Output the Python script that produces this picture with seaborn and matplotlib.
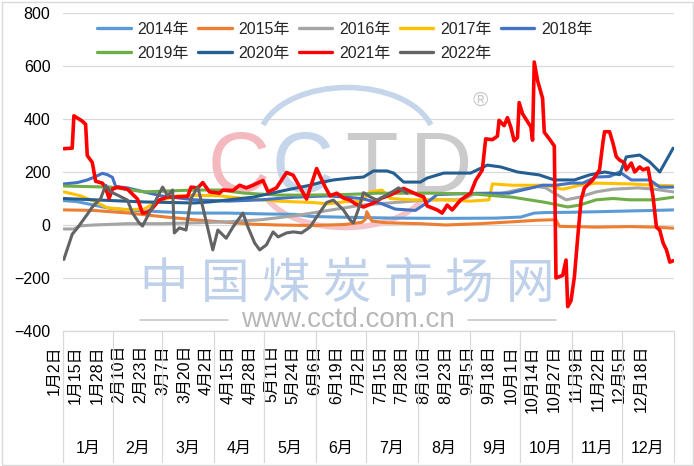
import pandas as pd
import matplotlib
matplotlib.use("Agg")
import matplotlib.pyplot as plt
import matplotlib.transforms as mtransforms
from matplotlib.lines import Line2D
from matplotlib.patches import Arc, Rectangle
import seaborn as sns

sns.set_theme(style="white")
plt.rcParams['font.family'] = ['Liberation Sans', 'Noto Sans CJK SC']

# day of year (2020 calendar, Jan 1 = 1) and value, one pair of lists per year
d2014 = [2, 10, 20, 30, 45, 60, 80, 100, 120, 140, 150, 165, 180, 200, 230, 260, 275, 283, 290, 305, 320, 340, 355, 366]
v2014 = [92, 88, 75, 62, 55, 50, 45, 45, 42, 40, 32, 30, 28, 26, 25, 26, 30, 45, 47, 48, 50, 53, 55, 57]

d2015 = [2, 20, 30, 41, 60, 81, 100, 115, 130, 150, 170, 180, 182, 183, 186, 195, 215, 230, 250, 270, 285, 296, 298, 320, 340, 355, 366]
v2015 = [57, 55, 50, 45, 32, 19, 10, 3, 0, -2, 2, 10, 20, 50, 15, 8, 5, 0, 5, 12, 18, 20, -5, -8, -6, -8, -12]

d2016 = [2, 8, 12, 20, 40, 60, 80, 100, 120, 140, 160, 180, 200, 220, 240, 248, 260, 275, 285, 290, 295, 302, 310, 320, 330, 345, 355, 366]
v2016 = [-15, -15, -3, 0, 5, 5, 8, 12, 20, 35, 55, 75, 85, 95, 95, 120, 115, 135, 145, 140, 120, 95, 105, 125, 135, 140, 135, 125]

d2017 = [2, 12, 20, 28, 40, 50, 58, 70, 80, 95, 110, 130, 150, 160, 170, 180, 185, 192, 197, 210, 230, 245, 256, 258, 270, 290, 300, 310, 320, 340, 355, 366]
v2017 = [125, 110, 90, 65, 58, 60, 90, 110, 112, 110, 100, 90, 85, 80, 88, 90, 125, 132, 100, 95, 95, 90, 95, 155, 150, 150, 135, 150, 158, 155, 150, 148]

d2018 = [2, 10, 16, 20, 25, 28, 31, 33, 40, 50, 60, 80, 100, 120, 140, 160, 180, 192, 200, 212, 218, 225, 240, 255, 268, 288, 296, 305, 312, 320, 328, 334, 341, 352, 358, 366]
v2018 = [155, 160, 170, 180, 195, 190, 180, 145, 140, 125, 110, 95, 90, 95, 105, 110, 100, 80, 60, 55, 80, 115, 118, 120, 120, 150, 150, 158, 158, 181, 183, 200, 170, 170, 143, 143]

d2019 = [2, 30, 50, 80, 95, 110, 130, 150, 170, 190, 220, 245, 260, 270, 290, 303, 310, 320, 330, 340, 355, 366]
v2019 = [147, 143, 125, 132, 132, 120, 113, 113, 115, 120, 120, 118, 110, 105, 85, 68, 75, 95, 100, 95, 95, 105]

d2020 = [2, 24, 50, 80, 89, 115, 135, 149, 155, 163, 173, 181, 187, 195, 199, 205, 215, 219, 229, 245, 255, 263, 273, 286, 295, 307, 316, 325, 334, 338, 346, 352, 358, 366]
v2020 = [100, 94, 87, 83, 87, 105, 132, 150, 160, 170, 177, 181, 204, 204, 196, 162, 162, 177, 196, 196, 226, 219, 200, 189, 170, 170, 189, 200, 190, 257, 264, 238, 200, 290]

d2021 = [2, 7, 8, 13, 15, 16, 19, 21, 25, 27, 29, 31, 34, 40, 46, 49, 52, 55, 59, 64, 70, 76, 78, 82, 85, 89, 95, 97,
         103, 107, 111, 115, 121, 124, 129, 135, 139, 147, 153, 158, 161, 165, 169, 173, 176, 181, 187, 192, 197,
         205, 213, 217, 219, 225, 228, 231, 234, 239, 245, 248, 252, 254, 258, 261, 262, 265, 267, 269, 271, 273,
         274, 276, 279, 281, 282, 283, 285, 288, 289, 292, 295, 296, 300, 302, 303, 305, 307, 309, 311, 313, 318,
         322, 324, 325, 328, 330, 332, 334, 337, 338, 341, 343, 346, 348, 351, 354, 356, 358, 360, 362, 364, 366]
v2021 = [288, 290, 412, 392, 380, 262, 236, 165, 158, 140, 100, 135, 143, 135, 98, 45, 47, 64, 94, 106, 106, 108, 143, 140,
         160, 125, 120, 132, 130, 150, 140, 150, 168, 125, 140, 198, 188, 98, 213, 145, 110, 120, 102, 94, 80, 68, 83,
         102, 113, 138, 115, 106, 72, 57, 45, 75, 57, 94, 120, 168, 208, 325, 322, 335, 395, 375, 405, 370, 318, 330,
         462, 420, 390, 370, 320, 615, 545, 478, 350, 325, 298, -200, -190, -132, -308, -285, -195, -45, 94, 140, 170,
         208, 310, 352, 352, 310, 258, 245, 234, 208, 234, 200, 219, 208, 215, 106, -8, -20, -68, -94, -140, -135]

d2022 = [2, 7, 10, 16, 19, 24, 27, 30, 34, 40, 43, 47, 49, 54, 61, 64, 67, 68, 71, 75, 78, 82, 85, 91, 94, 99, 103,
         109, 112, 116, 119, 123, 127, 130, 135, 139, 144, 149, 153, 159, 163, 169, 173, 175, 178, 181, 185, 189,
         195, 202, 207]
v2022 = [-130, -35, -12, 40, 68, 100, 150, 125, 113, 94, 45, 8, -4, 57, 143, 110, 132, -30, -11, -19, 100, 143, 68,
         -94, -19, -50, -8, 45, -8, -68, -94, -75, -26, -45, -30, -26, -30, -8, 30, 85, 94, 57, 19, 8, 60, 122, 106,
         94, 113, 140, 120]

years = ['2014年', '2015年', '2016年', '2017年', '2018年', '2019年', '2020年', '2021年', '2022年']
colors = ['#5B9BD5', '#ED7D31', '#A5A5A5', '#FFC000', '#4472C4', '#70AD47', '#255E91', '#FF0000', '#636363']
days = [d2014, d2015, d2016, d2017, d2018, d2019, d2020, d2021, d2022]
vals = [v2014, v2015, v2016, v2017, v2018, v2019, v2020, v2021, v2022]

tick_labels = ['1月2日', '1月15日', '1月28日', '2月10日', '2月23日', '3月7日', '3月20日', '4月2日', '4月15日',
               '4月28日', '5月11日', '5月24日', '6月6日', '6月19日', '7月2日', '7月15日', '7月28日', '8月10日',
               '8月23日', '9月5日', '9月18日', '10月1日', '10月14日', '10月27日', '11月9日', '11月22日',
               '12月5日', '12月18日']
month_labels = ['1月', '2月', '3月', '4月', '5月', '6月', '7月', '8月', '9月', '10月', '11月', '12月']

# long table for seaborn
frames = [pd.DataFrame({'day': d, 'value': v, 'year': y}) for y, d, v in zip(years, days, vals)]
df = pd.concat(frames, ignore_index=True)

tick_days = pd.to_datetime(['2020年' + t for t in tick_labels], format='%Y年%m月%d日').dayofyear
month_starts = list(pd.date_range('2020-02-01', '2020-12-01', freq='MS').dayofyear - 0.5)
month_bounds = [1.5] + month_starts + [366.5]

W, H = 694, 466
fig = plt.figure(figsize=(W / 100, H / 100), dpi=100)
ax = fig.add_axes([63 / W, 135 / H, 611 / W, 318 / H])

sns.lineplot(data=df, x='day', y='value', hue='year', hue_order=years,
             palette=dict(zip(years, colors)), estimator=None, sort=False,
             linewidth=2.2, legend=False, ax=ax)
for line in ax.lines:
    line.set_solid_joinstyle('round')
    if line.get_color() == '#FF0000':
        line.set_linewidth(2.6)

ax.set_xlim(1.5, 366.5)
ax.set_ylim(-400, 800)
ax.set_yticks(range(-400, 801, 200))
ax.set_xticks(tick_days)
ax.set_xticklabels(tick_labels, rotation=90)
ax.set_xlabel('')
ax.set_ylabel('')
ax.tick_params(axis='x', length=0, pad=10, labelsize=11.5, labelcolor='black')
ax.tick_params(axis='y', length=0, pad=9, labelsize=11.5, labelcolor='black')
ax.set_axisbelow(True)
ax.grid(axis='y', color='#D9D9D9', linewidth=0.9)
ax.grid(axis='x', visible=False)
for side in ['left', 'right', 'top']:
    ax.spines[side].set_visible(False)
ax.spines['bottom'].set_color('#D9D9D9')
ax.spines['bottom'].set_linewidth(0.9)

# Excel draws the rotated date labels a little to the left of the tick
shift = mtransforms.ScaledTranslation(-0.10, 0, fig.dpi_scale_trans)
for lab in ax.get_xticklabels():
    lab.set_transform(lab.get_transform() + shift)

# month groups under the dates
trans = ax.get_xaxis_transform()
for b in month_bounds:
    ax.plot([b, b], [0, -131 / 318], transform=trans, color='#D9D9D9', lw=0.9, clip_on=False)
for name, lo, hi in zip(month_labels, month_bounds[:-1], month_bounds[1:]):
    ax.text((lo + hi) / 2, -117 / 318, name, transform=trans, ha='center', va='center',
            fontsize=11.5, color='black')

# legend, filled row by row like the original
order = [0, 5, 1, 6, 2, 7, 3, 8, 4]
handles = [Line2D([], [], color=colors[i], lw=2.4) for i in order]
labels = [years[i] for i in order]
ax.legend(handles, labels, ncol=5, frameon=False, fontsize=11.5, loc='upper left',
          bbox_to_anchor=(97 / W, 1 - 22 / H), bbox_transform=fig.transFigure,
          borderpad=0, borderaxespad=0, handlelength=2.1, handletextpad=0.45,
          columnspacing=0.55, labelspacing=0.55)

# watermark
def fx(px):
    return px / W

def fy(py):
    return 1 - py / H

tf = fig.transFigure
ax.add_patch(Arc((fx(347), fy(140)), 175 / W, 105 / H, theta1=15, theta2=165, transform=tf,
                 color='#C5D5EA', lw=4, zorder=1, clip_on=False))
ax.add_patch(Arc((fx(345), fy(180)), 170 / W, 95 / H, theta1=200, theta2=340, transform=tf,
                 color='#F4C4CA', lw=4, zorder=1, clip_on=False))
for ch, px, col in [('C', 208, '#F4B8BF'), ('C', 272, '#C5D5EA'), ('T', 345, '#CBCBCB'), ('D', 410, '#CBCBCB')]:
    ax.text(fx(px), fy(192), ch, transform=tf, fontsize=62, color=col, ha='left', va='baseline',
            zorder=1, family='Liberation Sans')
ax.text(fx(480), fy(100), '®', transform=tf, fontsize=15, color='#C8C8C8', ha='center', va='center', zorder=1)
for i, ch in enumerate('中国煤炭市场网'):
    ax.text(fx(164 + i * 61), fy(284), ch, transform=tf, fontsize=35, color='#BFD0EA', ha='center',
            va='center', zorder=1, family='Noto Sans CJK SC')
ax.text(fx(348), fy(320), 'www.cctd.com.cn', transform=tf, fontsize=20, color='#B8B8B8',
        ha='center', va='center', zorder=1)
for x0, x1 in [(140, 228), (468, 556)]:
    ax.plot([fx(x0), fx(x1)], [fy(320), fy(320)], transform=tf, color='#C8C8C8', lw=1.2,
            zorder=1, clip_on=False)

fig.add_artist(Rectangle((1.5 / W, 1.5 / H), 691 / W, 463 / H, transform=tf, fill=False,
                         edgecolor='#D9D9D9', lw=1))

fig.savefig('out.png', dpi=100, facecolor='white')
